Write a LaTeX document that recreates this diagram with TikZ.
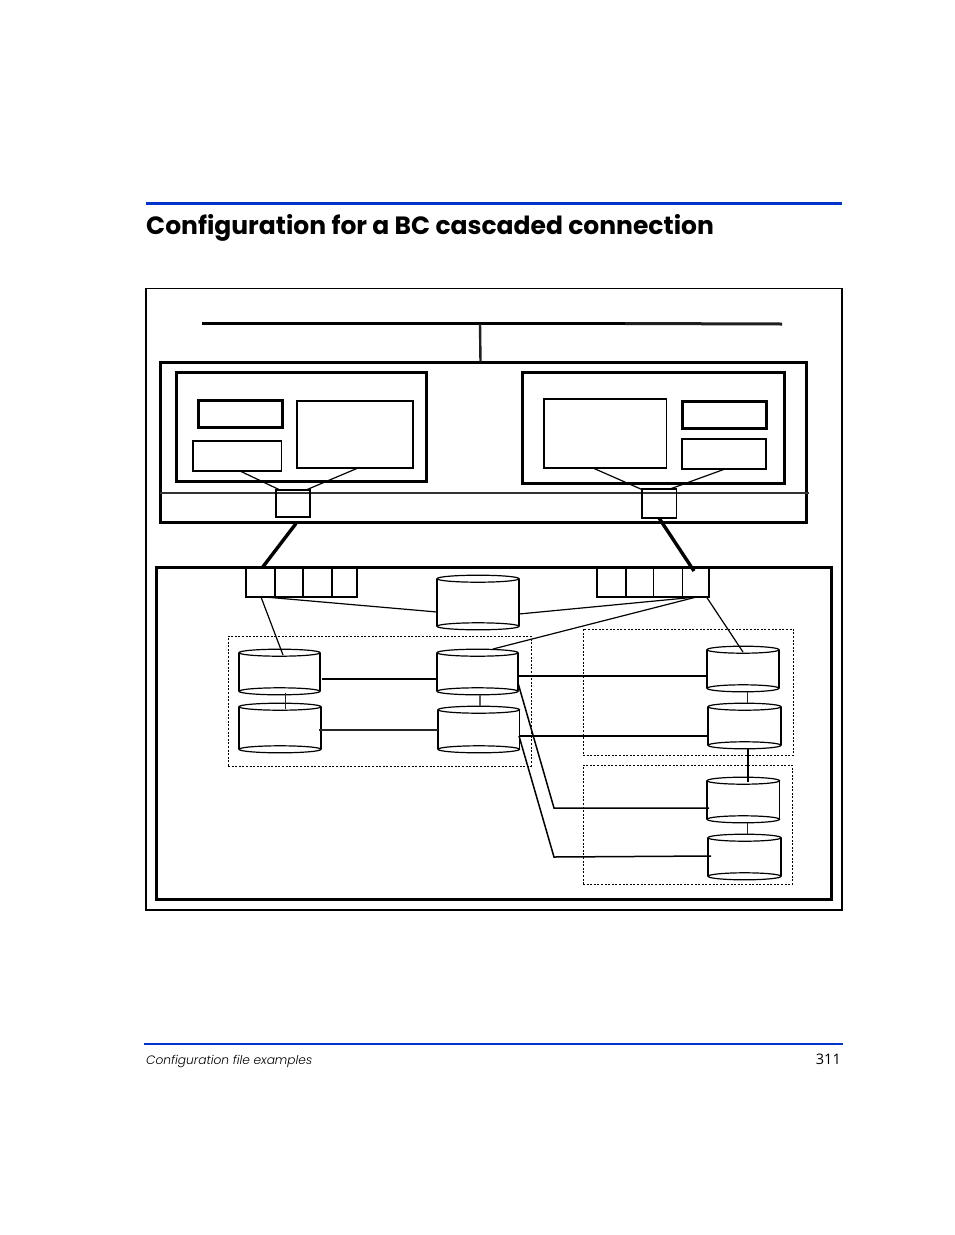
\documentclass[tikz,border=0pt]{standalone}
\usepackage{fontspec}
\setmainfont{Poppins}
\newfontfamily\footfont{Poppins Light}
\newfontfamily\pagefont{Open Sans}
\tikzset{
  plain/.style={draw=black,line width=1.15pt,inner sep=0pt,outer sep=0pt,rectangle},
  heavy/.style={plain,line width=3pt},
  mid/.style={plain,line width=1.7pt},
  ghost/.style={inner sep=0pt,outer sep=0pt,rectangle},
  dotbox/.style={plain,line width=.9pt,dash pattern=on 2pt off 1.6pt},
  link/.style={line width=1.2pt,black},
  hair/.style={line width=1pt,black!85},
  trunk/.style={line width=3.4pt,black},
  drumline/.style={line width=1.2pt,black},
}
\newcommand{\bx}[6][plain]{%
  \node[#1,minimum width={(#5-#3)*1pt},minimum height={(#6-#4)*1pt}] (#2) at ({(#3+#5)/2},{(#4+#6)/2}) {};}
\newcommand{\drum}[5]{%
  \node[ghost,minimum width={(#4-#2)*1pt},minimum height={(#5-#3)*1pt}] (#1) at ({(#2+#4)/2},{(#3+#5)/2}) {};
  \draw[drumline] (#2,#3+3.7) -- (#2,#5-3.7) (#4,#3+3.7) -- (#4,#5-3.7);
  \draw[drumline] ({(#2+#4)/2},#3+3.7) ellipse [x radius={(#4-#2)/2},y radius=3.5];
  \draw[drumline] ({(#2+#4)/2},#5-3.7) ellipse [x radius={(#4-#2)/2},y radius=3.5];}
\begin{document}
\begin{tikzpicture}[x=1pt,y=-1pt]
\useasboundingbox (0,0) rectangle (954,1235);
% page furniture
\coordinate (ruleA) at (146,203.5);
\coordinate (ruleB) at (842,203.5);
\draw[line width=3pt,color={rgb,255:red,0;green,51;blue,204}] (ruleA) -- (ruleB);
\node[anchor=base west,inner sep=0pt,font=\fontsize{25}{30}\selectfont\bfseries] (title) at (146,234) {Configuration for a BC cascaded connection};
\coordinate (footA) at (144,1044);
\coordinate (footB) at (843,1044);
\draw[line width=2pt,color={rgb,255:red,0;green,51;blue,204}] (footA) -- (footB);
\node[anchor=base west,inner sep=0pt,font=\fontsize{12.2}{16}\selectfont\footfont\itshape] (foottext) at (146,1064) {Configuration file examples};
\node[anchor=base east,inner sep=0pt,font=\fontsize{14.5}{16}\selectfont\pagefont] (pageno) at (841,1064) {311};
% frame
\bx[plain]{frame}{146}{288.5}{842}{910}
% bus
\coordinate (busL) at (202,323.5);
\coordinate (busM) at (625,323.5);
\coordinate (busR) at (782,324);
\coordinate (busT) at (480,323.5);
\draw[line width=3pt] (busL) -- (busM);
\draw[line width=3pt,black!88] (busM) -- (busR);
% host
\bx[heavy]{host}{160}{362}{806.5}{522}
\draw[line width=2.4pt,black!88] (busT) -- ([shift={(320.5,0)}]host.north west);
\draw[line width=1.2pt,black!80] ([shift={(0,131)}]host.north west) -- ([shift={(649,131)}]host.north west);
\bx[heavy]{hl}{176}{372}{426.5}{481}
\bx[heavy]{hr}{522}{372}{784.5}{483}
\bx[heavy]{la}{198}{400}{282.5}{427}
\bx[plain]{lb}{193}{441}{281.5}{471}
\bx[plain]{lc}{297}{401}{413}{468}
\bx[plain]{ra}{544}{399}{666.5}{468}
\bx[heavy]{rb}{682}{401}{766.5}{428}
\bx[plain]{rc}{682}{439}{766}{469}
\bx[plain]{swl}{276}{490}{310}{517}
\bx[plain]{swr}{642}{489}{676.5}{518}
\draw[link] ([shift={(47,30)}]lb.north west) -- ([shift={(4,0)}]swl.north west);
\draw[link] ([shift={(61,67)}]lc.north west) -- ([shift={(30,0)}]swl.north west);
\draw[link] ([shift={(49,69)}]ra.north west) -- ([shift={(1,1)}]swr.north west);
\draw[link] ([shift={(43,30)}]rc.north west) -- ([shift={(28,0)}]swr.north west);
% storage
\bx[heavy]{stor}{156}{567}{831.5}{899}
\bx[mid]{pl1}{246}{567}{275}{597}
\bx[plain]{pl2}{275}{567}{303}{597}
\bx[plain]{pl3}{303}{567}{332}{597}
\bx[plain]{pl4}{332}{567}{357}{597}
\bx[plain]{pr1}{597}{567}{626}{597}
\bx[plain]{pr2}{626}{567}{653.5}{597}
\bx[plain]{pr3}{653.5}{567}{682.5}{597}
\bx[mid]{pr4}{682.5}{567}{709}{597}
\draw[trunk] ([shift={(136,161.5)}]host.north west) -- ([shift={(16,1)}]pl1.north west);
\draw[trunk] ([shift={(17,29)}]swr.north west) -- ([shift={(11.5,4)}]pr4.north west);
% dotted groups
\bx[dotbox]{dga}{228}{636}{531}{766}
\bx[dotbox]{dgb}{583}{629}{793.5}{755}
\bx[dotbox]{dgc}{583}{765}{792.5}{884}
% drums
\drum{top}{437}{575}{519}{630}
\drum{ca}{239}{649}{320}{695}
\drum{cb}{239}{703}{321}{753}
\drum{cc}{437}{649}{518}{695}
\drum{cd}{438}{706}{519.5}{753}
\drum{ce}{707}{646}{779}{692}
\drum{cf}{708}{703}{781}{749}
\drum{cg}{707}{777}{779.5}{823}
\drum{ch}{708}{834}{781}{880}
\draw[line width=2pt] ([shift={(0,4)}]ch.north west) -- ([shift={(0,42)}]ch.north west);
% connectors
\draw[link] ([shift={(15,30)}]pl1.north west) -- ([shift={(44,6)}]ca.north west);
\draw[link] ([shift={(19,30)}]pl1.north west) -- ([shift={(0,37)}]top.north west);
\draw[link] ([shift={(82,39)}]top.north west) -- ([shift={(14,30)}]pr4.north west);
\draw[link] ([shift={(56,0)}]cc.north west) -- ([shift={(14,30)}]pr4.north west);
\draw[link] ([shift={(24,30)}]pr4.north west) -- ([shift={(36,6)}]ce.north west);
\draw[line width=1.5pt] ([shift={(83,30)}]ca.north west) -- ([shift={(0,30)}]cc.north west);
\draw[line width=1.5pt,black!85] ([shift={(80,27)}]cb.north west) -- ([shift={(0,24)}]cd.north west);
\draw[hair] ([shift={(46.5,44)}]ca.north west) -- ([shift={(46.5,6)}]cb.north west);
\draw[line width=1.2pt,black!65] ([shift={(43,46)}]cc.north west) -- ([shift={(42,0)}]cd.north west);
\draw[line width=2pt] ([shift={(81,27)}]cc.north west) -- ([shift={(0,30)}]ce.north west);
\draw[line width=1.5pt] ([shift={(81.5,30)}]cd.north west) -- ([shift={(-1,33)}]cf.north west);
\coordinate (benda) at (554,808);
\coordinate (bendb) at (554,857);
\draw[line width=1.5pt] ([shift={(81,34)}]cc.north west) -- (benda) -- ([shift={(2,31)}]cg.north west);
\draw[line width=1.5pt] ([shift={(81,30)}]cd.north west) -- (bendb) -- ([shift={(3,22)}]ch.north west);
\draw[hair] ([shift={(40,46)}]ce.north west) -- ([shift={(39,0)}]cf.north west);
\draw[line width=2.4pt] ([shift={(40,46)}]cf.north west) -- ([shift={(41,5)}]cg.north west);
\draw[hair] ([shift={(40,46)}]cg.north west) -- ([shift={(39,0)}]ch.north west);
\end{tikzpicture}
\end{document}
